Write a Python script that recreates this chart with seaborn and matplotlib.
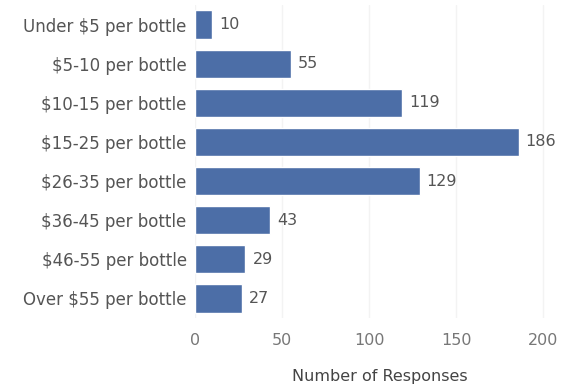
import matplotlib
matplotlib.use("Agg")
import matplotlib.pyplot as plt
import seaborn as sns
import pandas as pd

categories = ["Under $5 per bottle", "$5-10 per bottle", "$10-15 per bottle",
              "$15-25 per bottle", "$26-35 per bottle", "$36-45 per bottle",
              "$46-55 per bottle", "Over $55 per bottle"]
responses = [10, 55, 119, 186, 129, 43, 29, 27]
x_ticks = [0, 50, 100, 150, 200]

df = pd.DataFrame({"category": categories, "responses": responses})

sns.set_theme(style="white")
plt.rcParams["font.family"] = ["DejaVu Sans"]

fig = plt.figure(figsize=(5.68, 3.92), dpi=100)
ax = fig.add_axes([195 / 568, 1 - 318 / 392, 370 / 568, 313 / 392])

sns.barplot(data=df, y="category", x="responses", color="#4c6ea7",
            saturation=1, width=0.72, ax=ax, orient="h")

ax.set_xlim(0, 212.6)
ax.set_ylim(7.5, -0.5)
ax.set_xticks(x_ticks)
ax.set_xticklabels([str(t) for t in x_ticks], fontsize=11.5, color="#777777")
ax.tick_params(axis="y", labelsize=12, labelcolor="#555555", length=0, pad=6)
ax.tick_params(axis="x", length=0, pad=11)
ax.set_ylabel("")
ax.set_xlabel("Number of Responses", fontsize=11.5, color="#444444", labelpad=15)
for s in ax.spines.values():
    s.set_visible(False)
ax.grid(axis="x", color="#f3f3f3", linewidth=1)
ax.set_axisbelow(True)

for i, v in enumerate(responses):
    ax.annotate(str(v), (v, i), xytext=(5, 0), textcoords="offset points",
                va="center", ha="left", fontsize=11.5, color="#555555")

fig.savefig("out.png", dpi=100)
